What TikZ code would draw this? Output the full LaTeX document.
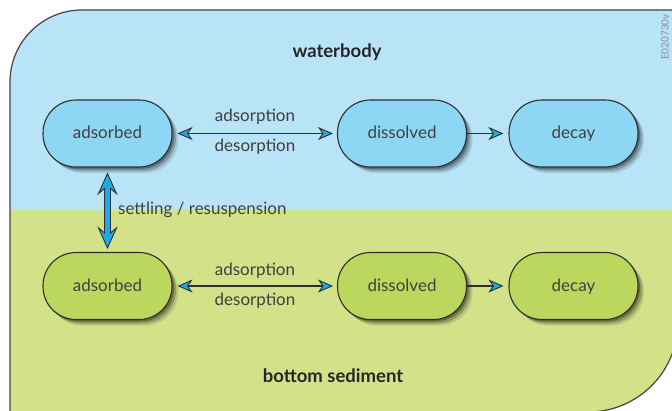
\documentclass[tikz,border=0pt]{standalone}
\usepackage{fontspec}
\setmainfont{Lato}
\usetikzlibrary{arrows.meta,shadows,calc}
\definecolor{bgblue}{HTML}{B9E4F8}
\definecolor{nodeblue}{HTML}{8DD7F4}
\definecolor{bggreen}{HTML}{D3E189}
\definecolor{nodegreen}{HTML}{BBD75E}
\definecolor{arrowblue}{HTML}{1EAAE6}
\definecolor{linedark}{HTML}{2E2E2E}
\definecolor{textgray}{HTML}{404040}
\tikzset{
  softshadow/.style={
    drop shadow={shadow xshift=2pt,shadow yshift=-2pt,opacity=.3,fill=black},
    drop shadow={shadow xshift=4pt,shadow yshift=-4pt,opacity=.22,fill=black},
    drop shadow={shadow xshift=6pt,shadow yshift=-6pt,opacity=.12,fill=black}},
  state/.style={draw=linedark,line width=1.1pt,rounded corners=33pt,
    minimum width=129pt,minimum height=67pt,inner sep=0pt,
    text height=12pt,text depth=2pt,
    font=\fontsize{17}{19}\selectfont,text=textgray,softshadow},
  bluestate/.style={state,fill=nodeblue},
  greenstate/.style={state,fill=nodegreen},
  lbl/.style={font=\fontsize{17}{19}\selectfont,text=textgray,inner sep=0pt},
  title/.style={font=\bfseries\fontsize{18.5}{21}\selectfont,text=black!85,inner sep=0pt},
  bluehead/.tip={Stealth[length=15pt,width=13pt,inset=4.5pt,fill=arrowblue,line width=0.9pt]},
  conn/.style={draw=linedark,line width=1.6pt},
  outline/.style={draw=linedark!90,line width=1.2pt}
}
\begin{document}
\begin{tikzpicture}[x=1pt,y=-1pt]
\useasboundingbox (0,0) rectangle (672,410);
\clip (0,0) rectangle (672,410);
\def\outerpath{(10,450) -- (10,82) arc[start angle=180,end angle=90,radius=72pt] -- (678,10) -- (678,322) arc[start angle=0,end angle=-90,radius=90pt] -- (10,412) -- cycle}
\fill[white] (0,0) rectangle (672,410);
\begin{scope}
  \clip \outerpath;
  \fill[bgblue] (0,0) rectangle (700,210);
  \fill[bggreen] (0,210) rectangle (700,460);
\end{scope}
\draw[outline] \outerpath;

\node[title] (wb) at (337,52) {waterbody};
\node[title] (bs) at (333,376) {bottom sediment};
\node[inner sep=0pt,rotate=90,text=black!45,font=\fontsize{10}{11}\selectfont] (code) at (665,37) {E020730v};

\node[bluestate] (a1) at (107.5,133.5) {adsorbed};
\node[bluestate] (d1) at (402,133.5) {dissolved};
\node[bluestate] (k1) at (573.5,133.5) {decay};
\node[greenstate] (a2) at (107.5,286) {adsorbed};
\node[greenstate] (d2) at (402,286) {dissolved};
\node[greenstate] (k2) at (573.5,286) {decay};

\draw[conn,bluehead-bluehead,shorten <=5pt,shorten >=4pt] (a1.east) -- (d1.west);
\draw[conn,bluehead-bluehead,shorten <=5pt,shorten >=4pt] (a2.east) -- (d2.west);
\draw[conn,-bluehead,shorten >=5pt] (d1.east) -- (k1.west);
\draw[conn,-bluehead,shorten >=5pt] (d2.east) -- (k2.west);

\node[lbl] (ad1) at (255,117) {adsorption};
\node[lbl] (de1) at (255,147) {desorption};
\node[lbl] (ad2) at (255,271) {adsorption};
\node[lbl] (de2) at (255,301) {desorption};

\filldraw[fill=arrowblue,draw=linedark,line width=0.9pt,line join=miter]
  ($(a1.south)+(0,6)$) -- ($(a1.south)+(9,26)$) -- ($(a1.south)+(3,21)$)
  -- ($(a2.north)+(3,-19)$) -- ($(a2.north)+(9,-24)$) -- ($(a2.north)+(0,-4)$)
  -- ($(a2.north)+(-9,-24)$) -- ($(a2.north)+(-3,-19)$)
  -- ($(a1.south)+(-3,21)$) -- ($(a1.south)+(-9,26)$) -- cycle;
\node[lbl,anchor=west] (sr) at (118,210) {settling / resuspension};
\end{tikzpicture}
\end{document}
